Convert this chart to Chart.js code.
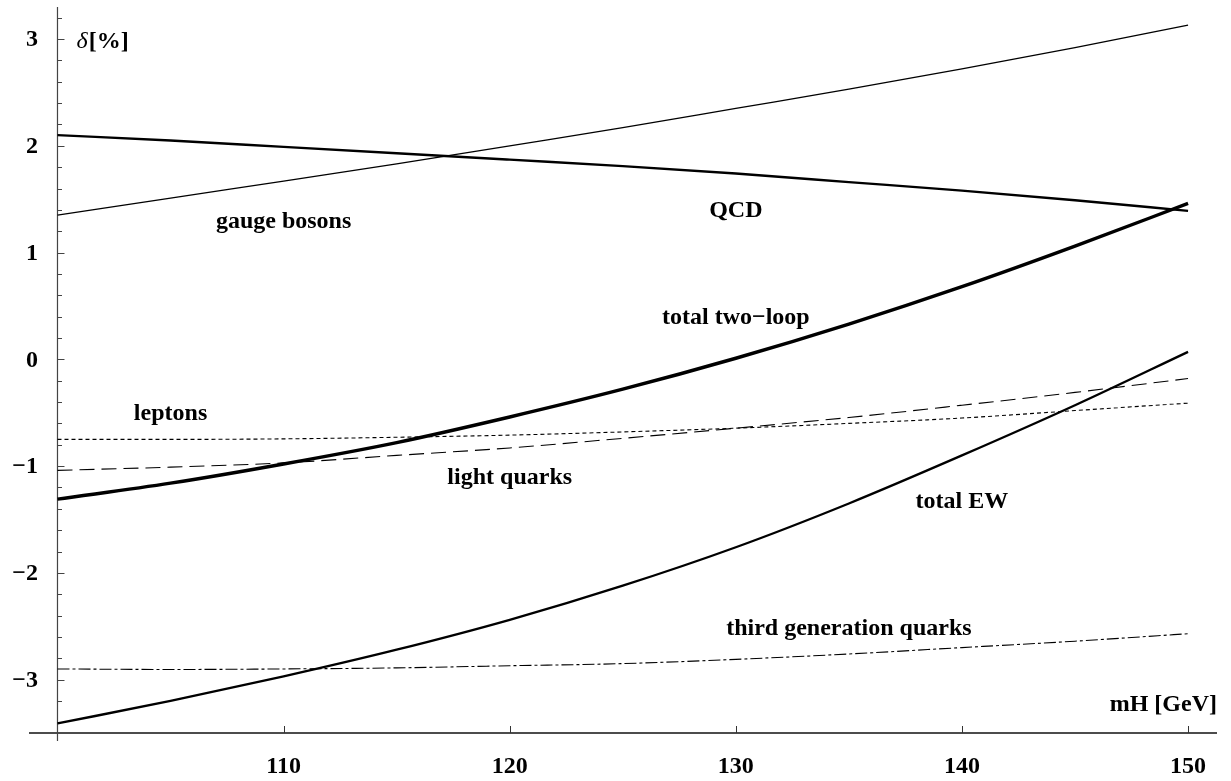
<!DOCTYPE html>
<html>
<head>
<meta charset="utf-8">
<script src="https://cdn.jsdelivr.net/npm/chart.js@4.4.1/dist/chart.umd.min.js"></script>
<style>
  html, body { margin: 0; padding: 0; background: #ffffff; }
  #wrap { width: 1231px; height: 781px; position: relative; }
</style>
</head>
<body>
<div id="wrap"><canvas id="c" width="1231" height="781"></canvas></div>
<script>
// ---- data ----
const mH = [100, 105, 110, 115, 120, 125, 130, 135, 140, 145, 150];
const gaugeBosons  = [1.35, 1.51, 1.67, 1.83, 2.00, 2.17, 2.35, 2.53, 2.72, 2.92, 3.13];
const qcd          = [2.10, 2.05, 1.99, 1.93, 1.87, 1.81, 1.74, 1.66, 1.58, 1.49, 1.39];
const totalTwoLoop = [-1.31, -1.16, -0.98, -0.78, -0.54, -0.28, 0.01, 0.33, 0.68, 1.06, 1.46];
const leptons      = [-0.75, -0.75, -0.745, -0.73, -0.71, -0.68, -0.645, -0.60, -0.55, -0.48, -0.41];
const lightQuarks  = [-1.04, -1.01, -0.97, -0.90, -0.83, -0.74, -0.645, -0.545, -0.43, -0.31, -0.18];
const totalEW      = [-3.41, -3.20, -2.97, -2.72, -2.44, -2.12, -1.76, -1.35, -0.90, -0.43, 0.07];
const thirdGen     = [-2.90, -2.905, -2.90, -2.89, -2.87, -2.85, -2.81, -2.76, -2.70, -2.64, -2.57];

const xTickValues = [110, 120, 130, 140, 150];
const yTickValues = [-3, -2, -1, 0, 1, 2, 3];
const yMinorStep = 0.2;
const yAxisTitle = 'δ[%]';
const xAxisTitle = 'mH [GeV]';

// curve labels: text and anchor in data units
const curveLabels = [
  { text: 'gauge bosons', x: 110.0, y: 1.23 },
  { text: 'QCD', x: 130.0, y: 1.33 },
  { text: 'total two\u2212loop', x: 130.0, y: 0.33 },
  { text: 'leptons', x: 105.0, y: -0.565 },
  { text: 'light quarks', x: 120.0, y: -1.165 },
  { text: 'total EW', x: 140.0, y: -1.39 },
  { text: 'third generation quarks', x: 135.0, y: -2.58 }
];

const FONT_FAMILY = '"Liberation Serif", "Times New Roman", serif';
const FONT = 'bold 24px ' + FONT_FAMILY;

function pts(arr) { return mH.map((m, i) => ({ x: m, y: arr[i] })); }

function series(label, arr, width, dash) {
  return {
    label: label,
    data: pts(arr),
    borderColor: '#000000',
    borderWidth: width,
    borderDash: dash || [],
    pointRadius: 0,
    fill: false,
    cubicInterpolationMode: 'monotone',
    borderCapStyle: 'butt'
  };
}

const axesPlugin = {
  id: 'axesPlugin',
  beforeDatasetsDraw(chart) {
    const ctx = chart.ctx;
    const xs = chart.scales.x, ys = chart.scales.y;
    const ca = chart.chartArea;
    const x0 = xs.getPixelForValue(100);
    const yb = ys.getPixelForValue(-3.5);
    ctx.save();
    // x axis
    ctx.strokeStyle = '#111';
    ctx.lineWidth = 1.5;
    ctx.beginPath(); ctx.moveTo(ca.left, yb); ctx.lineTo(ca.right, yb); ctx.stroke();
    // y axis
    ctx.strokeStyle = '#444';
    ctx.lineWidth = 1.2;
    ctx.beginPath(); ctx.moveTo(x0, ca.top); ctx.lineTo(x0, yb + 8); ctx.stroke();
    // y ticks (major + minor, inward)
    ctx.lineWidth = 1;
    for (let k = Math.ceil(-3.5 / yMinorStep); k * yMinorStep <= 3.3 + 1e-9; k++) {
      const v = k * yMinorStep;
      if (v <= -3.5 + 1e-9) continue;
      const py = Math.round(ys.getPixelForValue(v)) + 0.5;
      const major = Math.abs(v - Math.round(v)) < 1e-6;
      ctx.beginPath(); ctx.moveTo(x0, py); ctx.lineTo(x0 + (major ? 7 : 4.5), py); ctx.stroke();
    }
    // x ticks (inward)
    ctx.strokeStyle = '#333';
    xTickValues.forEach(v => {
      const px = Math.round(xs.getPixelForValue(v)) + 0.5;
      ctx.beginPath(); ctx.moveTo(px, yb); ctx.lineTo(px, yb - 7); ctx.stroke();
    });
    ctx.restore();
  },
  afterDraw(chart) {
    const ctx = chart.ctx;
    const xs = chart.scales.x, ys = chart.scales.y;
    const x0 = xs.getPixelForValue(100);
    const yb = ys.getPixelForValue(-3.5);
    ctx.save();
    ctx.fillStyle = '#000';
    ctx.font = FONT;
    // y tick labels
    ctx.textAlign = 'right';
    ctx.textBaseline = 'middle';
    yTickValues.forEach(v => {
      const s = v < 0 ? '\u2212' + Math.abs(v) : String(v);
      ctx.fillText(s, x0 - 19.5, ys.getPixelForValue(v) + 1);
    });
    // x tick labels
    ctx.textAlign = 'center';
    ctx.textBaseline = 'alphabetic';
    xTickValues.forEach(v => {
      ctx.fillText(String(v), xs.getPixelForValue(v), yb + 39.5);
    });
    // curve labels
    curveLabels.forEach(l => {
      ctx.fillText(l.text, xs.getPixelForValue(l.x), ys.getPixelForValue(l.y));
    });
    // x axis title
    ctx.textAlign = 'right';
    ctx.fillText(xAxisTitle, chart.chartArea.right, ys.getPixelForValue(-3.29));
    // y axis title: italic delta + bold [%]
    ctx.textAlign = 'left';
    let px = xs.getPixelForValue(100.84);
    const py = ys.getPixelForValue(2.92);
    ctx.font = 'italic 24px ' + FONT_FAMILY;
    const d = yAxisTitle.charAt(0);
    ctx.fillText(d, px, py);
    px += ctx.measureText(d).width + 1;
    ctx.font = FONT;
    ctx.fillText(yAxisTitle.slice(1), px, py);
    ctx.restore();
  }
};

new Chart(document.getElementById('c'), {
  type: 'line',
  data: {
    datasets: [
      series('gauge bosons', gaugeBosons, 1.3),
      series('QCD', qcd, 2.4),
      series('total two-loop', totalTwoLoop, 3.4),
      series('leptons', leptons, 1.1, [4, 3]),
      series('light quarks', lightQuarks, 1.1, [15, 7]),
      series('total EW', totalEW, 2.3),
      series('third generation quarks', thirdGen, 1.1, [12, 3, 3, 3])
    ]
  },
  options: {
    responsive: false,
    animation: false,
    devicePixelRatio: 1,
    layout: { padding: { left: 29, right: 14, top: 7, bottom: 48 } },
    plugins: { legend: { display: false }, tooltip: { enabled: false } },
    scales: {
      x: { type: 'linear', min: 98.74, max: 151.28, display: false },
      y: { type: 'linear', min: -3.5, max: 3.3, display: false }
    }
  },
  plugins: [axesPlugin]
});
</script>
</body>
</html>
